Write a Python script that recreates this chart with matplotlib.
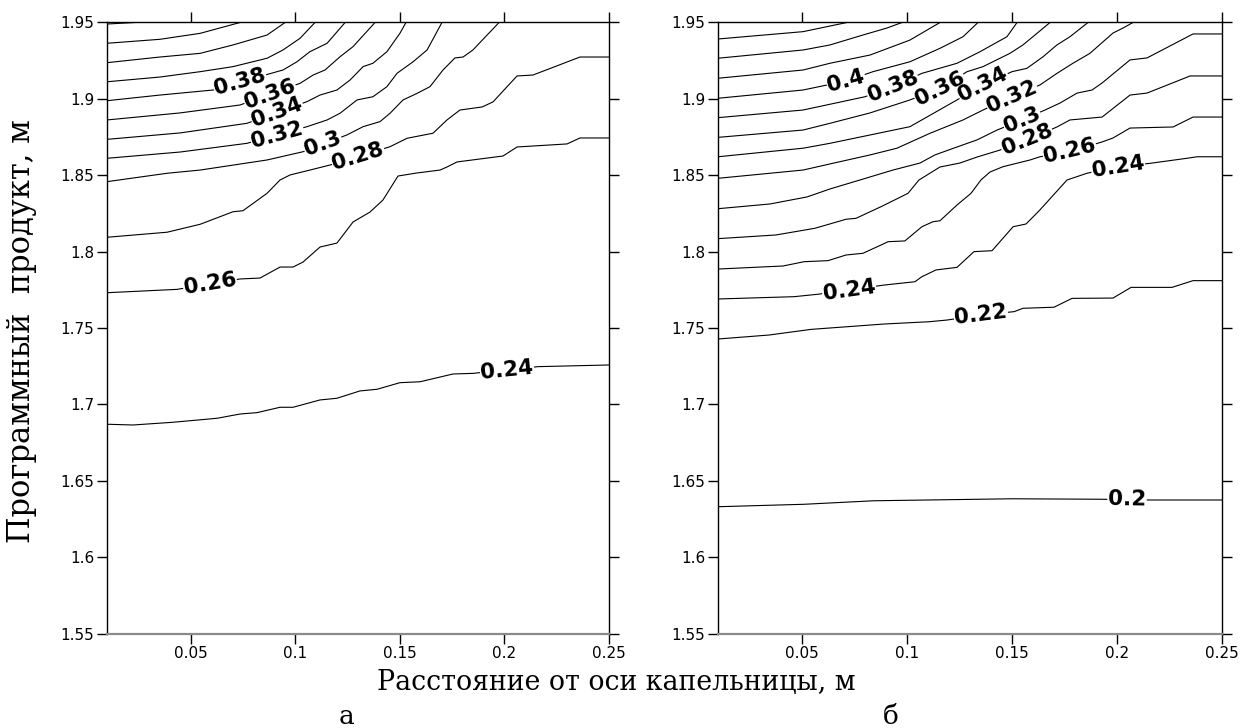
import numpy as np
import matplotlib.pyplot as plt

# ---- панель а : изолинии (x, м ; y, м) ----
xa_046 = [0.010, 0.0234]
ya_046 = [1.9490, 1.9500]
xa_044 = [0.010, 0.0353, 0.0545, 0.0736]
ya_044 = [1.9364, 1.9390, 1.9429, 1.9500]
xa_042 = [0.010, 0.0353, 0.0545, 0.0702, 0.0865, 0.0951]
ya_042 = [1.9237, 1.9274, 1.9298, 1.9353, 1.9418, 1.9500]
xa_040 = [0.010, 0.0353, 0.0545, 0.0702, 0.0865, 0.0941, 0.1023, 0.1094]
ya_040 = [1.9112, 1.9143, 1.9178, 1.9211, 1.9266, 1.9320, 1.9397, 1.9500]
xa_038 = [0.010, 0.0353, 0.0607, 0.0889, 0.0941, 0.1008, 0.1070, 0.1152, 0.1238]
ya_038 = [1.8988, 1.9025, 1.9058, 1.9169, 1.9189, 1.9243, 1.9309, 1.9364, 1.9500]
xa_036 = [0.010, 0.0449, 0.0736, 0.1023, 0.1085, 0.1142, 0.1214, 0.1276, 0.1381]
ya_036 = [1.8862, 1.8908, 1.8960, 1.9102, 1.9156, 1.9189, 1.9276, 1.9342, 1.9500]
xa_034 = [0.010, 0.0449, 0.0769, 0.1056, 0.1118, 0.1199, 0.1262, 0.1324, 0.1371, 0.1438, 0.1500, 0.1529]
ya_034 = [1.8735, 1.8777, 1.8840, 1.8982, 1.9025, 1.9058, 1.9124, 1.9211, 1.9233, 1.9309, 1.9429, 1.9500]
xa_032 = [0.010, 0.0449, 0.0769, 0.1056, 0.1152, 0.1214, 0.1295, 0.1371, 0.1438, 0.1486, 0.1563, 0.1630, 0.1701]
ya_032 = [1.8611, 1.8652, 1.8709, 1.8818, 1.8862, 1.8906, 1.8993, 1.9014, 1.9080, 1.9167, 1.9243, 1.9320, 1.9500]
xa_030 = [0.010, 0.0387, 0.0545, 0.0865, 0.1037, 0.1247, 0.1324, 0.1405, 0.1453, 0.1515, 0.1582, 0.1644,
          0.1706, 0.1763, 0.1802, 0.1849, 0.1974]
ya_030 = [1.8458, 1.8513, 1.8534, 1.8600, 1.8654, 1.8764, 1.8818, 1.8851, 1.8906, 1.8993, 1.9036, 1.9080,
          1.9189, 1.9268, 1.9274, 1.9320, 1.9500]
xa_028 = [0.010, 0.0387, 0.0545, 0.0702, 0.0750, 0.0865, 0.0927, 0.0975, 0.1070, 0.1166, 0.1453, 0.1534,
          0.1658, 0.1725, 0.1787, 0.1893, 0.1945, 0.2060, 0.2136, 0.2361, 0.2500]
ya_028 = [1.8094, 1.8127, 1.8179, 1.8261, 1.8268, 1.8382, 1.8469, 1.8502, 1.8534, 1.8567, 1.8687, 1.8742,
          1.8775, 1.8862, 1.8927, 1.8947, 1.8980, 1.9150, 1.9156, 1.9274, 1.9274]
xa_026 = [0.010, 0.0435, 0.0736, 0.0831, 0.0927, 0.0989, 0.1037, 0.1118, 0.1199, 0.1276, 0.1357, 0.1419,
          0.1491, 0.1582, 0.1692, 0.1725, 0.1773, 0.1993, 0.2060, 0.2299, 0.2361, 0.2500]
ya_026 = [1.7731, 1.7753, 1.7821, 1.7827, 1.7899, 1.7899, 1.7932, 1.8030, 1.8056, 1.8194, 1.8259, 1.8338,
          1.8495, 1.8515, 1.8534, 1.8554, 1.8587, 1.8626, 1.8685, 1.8705, 1.8744, 1.8744]
xa_024 = [0.010, 0.0224, 0.0416, 0.0626, 0.0736, 0.0817, 0.0927, 0.0989, 0.1118, 0.1199, 0.1309, 0.1391,
          0.1500, 0.1596, 0.1754, 0.1849, 0.2160, 0.2500]
ya_024 = [1.6870, 1.6865, 1.6883, 1.6909, 1.6937, 1.6946, 1.6981, 1.6981, 1.7029, 1.7040, 1.7088, 1.7099,
          1.7142, 1.7148, 1.7199, 1.7203, 1.7247, 1.7258]

# ---- панель б ----
xb_046 = [0.010, 0.0505, 0.0714]
yb_046 = [1.9392, 1.9440, 1.9500]
xb_044 = [0.010, 0.0505, 0.0633, 0.0790, 0.0905, 0.0976]
yb_044 = [1.9266, 1.9320, 1.9353, 1.9418, 1.9464, 1.9500]
xb_042 = [0.010, 0.0505, 0.0633, 0.0824, 0.1014, 0.1157]
yb_042 = [1.9135, 1.9189, 1.9233, 1.9287, 1.9385, 1.9500]
xb_040 = [0.010, 0.0505, 0.0710, 0.0838, 0.1014, 0.1157, 0.1267, 0.1338]
yb_040 = [1.9004, 1.9058, 1.9117, 1.9178, 1.9243, 1.9331, 1.9407, 1.9500]
xb_038 = [0.010, 0.0505, 0.0800, 0.0933, 0.1071, 0.1238, 0.1348, 0.1476, 0.1524]
yb_038 = [1.8877, 1.8927, 1.9014, 1.9080, 1.9167, 1.9233, 1.9309, 1.9407, 1.9500]
xb_036 = [0.010, 0.0505, 0.0633, 0.0824, 0.1014, 0.1157, 0.1286, 0.1362, 0.1490, 0.1552, 0.1619, 0.1681]
yb_036 = [1.8748, 1.8796, 1.8840, 1.8908, 1.8993, 1.9069, 1.9178, 1.9211, 1.9298, 1.9353, 1.9429, 1.9500]
xb_034 = [0.010, 0.0505, 0.0633, 0.1014, 0.1238, 0.1362, 0.1500, 0.1571, 0.1648, 0.1714, 0.1776, 0.1862]
yb_034 = [1.8621, 1.8677, 1.8709, 1.8818, 1.8993, 1.9091, 1.9178, 1.9200, 1.9276, 1.9353, 1.9407, 1.9500]
xb_032 = [0.010, 0.0505, 0.0633, 0.0824, 0.0952, 0.1110, 0.1267, 0.1362, 0.1500, 0.1633, 0.1714, 0.1790,
          0.1871, 0.1981, 0.2029, 0.2076]
yb_032 = [1.8480, 1.8534, 1.8574, 1.8633, 1.8677, 1.8775, 1.8862, 1.8927, 1.9014, 1.9091, 1.9167, 1.9233,
          1.9298, 1.9431, 1.9464, 1.9500]
xb_030 = [0.010, 0.0348, 0.0524, 0.0633, 0.0776, 0.0933, 0.1062, 0.1133, 0.1238, 0.1333, 0.1429, 0.1548,
          0.1657, 0.1729, 0.1810, 0.1881, 0.1929, 0.2062, 0.2143, 0.2362, 0.2500]
yb_030 = [1.8281, 1.8312, 1.8358, 1.8410, 1.8469, 1.8534, 1.8580, 1.8633, 1.8685, 1.8731, 1.8796, 1.8862,
          1.8927, 1.8973, 1.9038, 1.9058, 1.9104, 1.9255, 1.9268, 1.9425, 1.9425]
xb_028 = [0.010, 0.0376, 0.0562, 0.0710, 0.0757, 0.0876, 0.0957, 0.1005, 0.1057, 0.1157, 0.1252, 0.1333,
          0.1443, 0.1571, 0.1714, 0.1776, 0.1929, 0.2062, 0.2143, 0.2348, 0.2500]
yb_028 = [1.8085, 1.8109, 1.8153, 1.8212, 1.8218, 1.8294, 1.8349, 1.8382, 1.8469, 1.8554, 1.8580, 1.8619,
          1.8665, 1.8731, 1.8816, 1.8862, 1.8881, 1.9025, 1.9038, 1.9150, 1.9150]
xb_026 = [0.010, 0.0410, 0.0510, 0.0624, 0.0710, 0.0790, 0.0876, 0.0910, 0.0990, 0.1071, 0.1124, 0.1157,
          0.1238, 0.1305, 0.1352, 0.1395, 0.1457, 0.1586, 0.1633, 0.1767, 0.1929, 0.1981, 0.2062, 0.2267,
          0.2362, 0.2500]
yb_026 = [1.7886, 1.7906, 1.7934, 1.7941, 1.7978, 1.7989, 1.8043, 1.8065, 1.8070, 1.8163, 1.8196, 1.8202,
          1.8305, 1.8382, 1.8469, 1.8521, 1.8556, 1.8600, 1.8621, 1.8652, 1.8718, 1.8744, 1.8809, 1.8816,
          1.8881, 1.8881]
xb_024 = [0.010, 0.0462, 0.0576, 0.0724, 0.0890, 0.1038, 0.1071, 0.1138, 0.1238, 0.1319, 0.1405, 0.1505,
          0.1567, 0.1633, 0.1762, 0.1857, 0.2005, 0.2157, 0.2333, 0.2381, 0.2500]
yb_024 = [1.7690, 1.7705, 1.7721, 1.7749, 1.7781, 1.7803, 1.7836, 1.7880, 1.7897, 1.8000, 1.8006, 1.8163,
          1.8181, 1.8273, 1.8469, 1.8513, 1.8556, 1.8578, 1.8611, 1.8621, 1.8621]
xb_022 = [0.010, 0.0343, 0.0543, 0.0890, 0.1105, 0.1190, 0.1352, 0.1510, 0.1552, 0.1700, 0.1786, 0.1981,
          0.2067, 0.2262, 0.2362, 0.2500]
yb_022 = [1.7428, 1.7454, 1.7491, 1.7526, 1.7541, 1.7552, 1.7585, 1.7607, 1.7629, 1.7636, 1.7694, 1.7696,
          1.7766, 1.7766, 1.7810, 1.7810]
xb_020 = [0.010, 0.0510, 0.0843, 0.1500, 0.1914, 0.2162, 0.2500]
yb_020 = [1.6330, 1.6346, 1.6369, 1.6382, 1.6379, 1.6374, 1.6374]

x_ticks = [0.05, 0.1, 0.15, 0.2, 0.25]
x_ticklabels = ["0.05", "0.1", "0.15", "0.2", "0.25"]
y_ticks = [1.55, 1.6, 1.65, 1.7, 1.75, 1.8, 1.85, 1.9, 1.95]
y_ticklabels = ["1.55", "1.6", "1.65", "1.7", "1.75", "1.8", "1.85", "1.9", "1.95"]

lines_a = [(xa_046, ya_046), (xa_044, ya_044), (xa_042, ya_042), (xa_040, ya_040), (xa_038, ya_038),
           (xa_036, ya_036), (xa_034, ya_034), (xa_032, ya_032), (xa_030, ya_030), (xa_028, ya_028),
           (xa_026, ya_026), (xa_024, ya_024)]
lines_b = [(xb_046, yb_046), (xb_044, yb_044), (xb_042, yb_042), (xb_040, yb_040), (xb_038, yb_038),
           (xb_036, yb_036), (xb_034, yb_034), (xb_032, yb_032), (xb_030, yb_030), (xb_028, yb_028),
           (xb_026, yb_026), (xb_024, yb_024), (xb_022, yb_022), (xb_020, yb_020)]

# подписи изолиний: текст, линия, x подписи
labels_a = [("0.38", xa_038, ya_038, 0.0736), ("0.36", xa_036, ya_036, 0.0879),
            ("0.34", xa_034, ya_034, 0.0913), ("0.32", xa_032, ya_032, 0.0913),
            ("0.3", xa_030, ya_030, 0.1132), ("0.28", xa_028, ya_028, 0.1300),
            ("0.26", xa_026, ya_026, 0.0592), ("0.24", xa_024, ya_024, 0.2012)]
labels_b = [("0.4", xb_040, yb_040, 0.0710), ("0.38", xb_038, yb_038, 0.0933),
            ("0.36", xb_036, yb_036, 0.1157), ("0.34", xb_034, yb_034, 0.1362),
            ("0.32", xb_032, yb_032, 0.1500), ("0.3", xb_030, yb_030, 0.1548),
            ("0.28", xb_028, yb_028, 0.1571), ("0.26", xb_026, yb_026, 0.1775),
            ("0.24", xb_024, yb_024, 0.2005), ("0.24", xb_024, yb_024, 0.0724),
            ("0.22", xb_022, yb_022, 0.1352), ("0.2", xb_020, yb_020, 0.2048)]


def draw_panel(ax, lines, labels):
    for xs, ys in lines:
        ax.plot(xs, ys, color="black", lw=0.8)
    ax.set_xlim(0.01, 0.25)
    ax.set_ylim(1.55, 1.95)
    ax.set_xticks(x_ticks)
    ax.set_xticklabels(x_ticklabels)
    ax.set_yticks(y_ticks)
    ax.set_yticklabels(y_ticklabels)
    ax.tick_params(direction="out", length=7, width=1, top=True, right=True,
                   labelsize=11, pad=2)
    for s in ["left", "right", "top"]:
        ax.spines[s].set_linewidth(1)
    ax.spines["bottom"].set_color("#8a8a8a")
    ax.spines["bottom"].set_linewidth(1.6)
    # подписи вдоль линий
    d = 0.012
    for txt, xs, ys, xl in labels:
        yl = np.interp(xl, xs, ys)
        p1 = ax.transData.transform((xl - d, np.interp(xl - d, xs, ys)))
        p2 = ax.transData.transform((xl + d, np.interp(xl + d, xs, ys)))
        ang = np.degrees(np.arctan2(p2[1] - p1[1], p2[0] - p1[0]))
        ax.text(xl, yl, txt, rotation=ang, rotation_mode="anchor", ha="center", va="center",
                fontsize=15.5, fontweight="bold",
                bbox=dict(fc="white", ec="none", pad=0.5))


fig = plt.figure(figsize=(12.42, 7.28), dpi=100)
ax1 = fig.add_axes([0.0862, 0.1298, 0.4042, 0.8393])
ax2 = fig.add_axes([0.5781, 0.1298, 0.4058, 0.8393])

draw_panel(ax1, lines_a, labels_a)
draw_panel(ax2, lines_b, labels_b)

fig.text(0.496, 0.062, "Расстояние от оси капельницы, м", ha="center", va="center",
         family="DejaVu Serif", fontsize=19.3)
fig.text(0.017, 0.545, "Программный  продукт, м", ha="center", va="center", rotation=90,
         family="DejaVu Serif", fontsize=22)
fig.text(0.279, 0.016, "а", ha="center", va="center", family="DejaVu Serif", fontsize=19)
fig.text(0.717, 0.016, "б", ha="center", va="center", family="DejaVu Serif", fontsize=19)

plt.savefig("out.png", dpi=100)
